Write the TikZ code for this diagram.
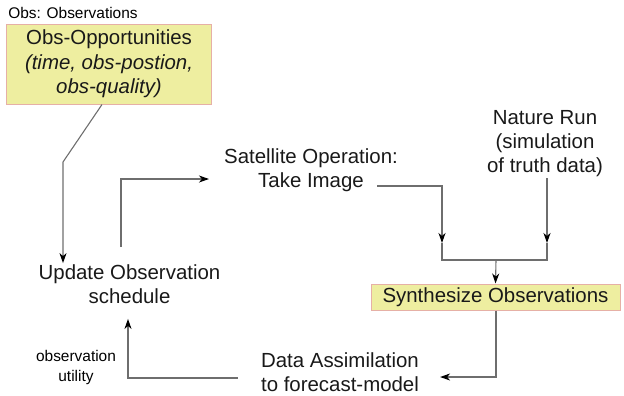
\documentclass[tikz,border=0pt]{standalone}
\usepackage{fontspec}
\setmainfont{Liberation Sans}
\usepackage{tikz}
\usetikzlibrary{arrows.meta}

\definecolor{boxfill}{RGB}{238,238,160}
\definecolor{boxline}{RGB}{230,176,166}
\definecolor{linkgray}{RGB}{110,110,110}

\begin{document}
\begin{tikzpicture}[x=1bp,y=-1bp,
                    main node/.style={align=center,inner sep=1bp,text=black!90,
                        font=\fontsize{20.5}{24.5}\selectfont},
                    box node/.style={main node,draw=boxline,fill=boxfill,line width=1bp},
                    small node/.style={align=center,inner sep=1bp,
                        font=\fontsize{15.5}{21}\selectfont},
                    link/.style={draw=linkgray,line width=1.1bp}]

        \useasboundingbox (0,0) rectangle (624,395);

        \node[small node] (note) at (73,13) {Obs: Observations};
        \node[box node,minimum width=205bp,minimum height=80bp] (opp) at (109,64)
            {Obs-Opportunities\\ \textit{(time, obs-postion,}\\ \textit{obs-quality)}};
        \node[main node] (update) at (129.5,284) {Update Observation\\ schedule};
        \node[main node] (sat) at (311,170) {Satellite Operation:\\ Take Image};
        \node[main node] (nature) at (545,143.5) {Nature Run\\ (simulation\\ of truth data)};
        \node[box node,minimum width=249bp,minimum height=26bp] (synth) at (495.5,297)
            {Synthesize Observations};
        \node[main node] (da) at (340,372) {Data Assimilation\\ to forecast-model};
        \node[small node] (util) at (76,367.5) {observation\\ utility};

        \coordinate (bend) at (63,162);
        \coordinate (inleft) at (442,243);
        \coordinate (inright) at (547,243);
        \coordinate (join) at (496,260);

        \begin{scope}[->,>={Stealth[length=10bp,width=7bp,inset=3bp,black]}]
            \path[link] ([xshift=-7bp]opp.south) -- (bend) -- (bend |- update.north);
            \path[link] ([xshift=-8.5bp,yshift=16bp]update.north) |- ([xshift=-14bp,yshift=-9bp]sat.west);
            \path[link] ([xshift=-22bp,yshift=-16bp]sat.east) -| (inleft);
            \path[link] (nature.south -| inright) -- (inright);
            \path[link] (join) -- (synth.north);
            \path[link] (synth.south -| join) |- ([xshift=20bp,yshift=-5bp]da.east);
            \path[link] ([xshift=-22bp,yshift=-6bp]da.west) -| ([xshift=-1.5bp,yshift=-14bp]update.south);
        \end{scope}
        \path[link] (inleft) |- (join) -| (inright);
    \end{tikzpicture}
\end{document}
